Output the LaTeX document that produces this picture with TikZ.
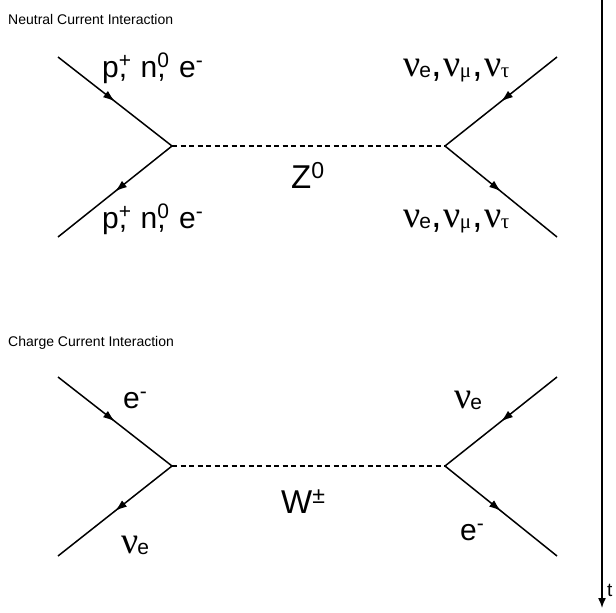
\documentclass[tikz,border=0pt]{standalone}
\usepackage{fontspec}
\setmainfont{Liberation Sans}
\newfontfamily\greek{Liberation Serif}
\usetikzlibrary{arrows.meta, decorations.markings}

\tikzset{
    fermion/.style={line width=1.5pt, postaction={decorate},
        decoration={markings, mark=at position 0.5 with {\arrow{Latex[length=12pt,width=8pt]}}}},
    boson/.style={line width=1.2pt, dash pattern=on 5pt off 3.5pt},
    biglabel/.style={font=\fontsize{30}{34}\selectfont, inner sep=0pt, anchor=base west},
    nulabel/.style={font=\fontsize{38}{40}\selectfont, inner sep=0pt, anchor=base west},
    title/.style={font=\fontsize{14}{16}\selectfont, inner sep=0pt, anchor=base west},
}
\newcommand{\nuf}[1]{{\greek ν}\kern-1pt{\fontsize{21}{22}\selectfont\raisebox{-1pt}{#1}}}
\newcommand{\nucdots}{\nuf{e},\kern2pt\nuf{\greek μ}\kern1pt,\kern2pt\nuf{\greek τ}}
\newcommand{\nucleons}{p\rlap{\textsuperscript{+}},\hspace{0.45em}n\rlap{\textsuperscript{0}},\hspace{0.45em}e\textsuperscript{-}}

\begin{document}
\begin{tikzpicture}[x=1pt, y=-1pt]
    \useasboundingbox (0,0) rectangle (616,613);
    % neutral current
    \node[title] (ncname) at (8,24) {Neutral Current Interaction};
    \coordinate (ncin) at (58,57);
    \coordinate (ncout) at (58,237);
    \coordinate (ncvl) at (172,146);
    \coordinate (ncvr) at (445,146);
    \coordinate (ncnuin) at (557,57);
    \coordinate (ncnuout) at (557,237);
    \draw[fermion] (ncin) -- (ncvl);
    \draw[fermion] (ncvl) -- (ncout);
    \draw[fermion] (ncnuin) -- (ncvr);
    \draw[fermion] (ncvr) -- (ncnuout);
    \draw[boson] (ncvl) -- (ncvr);
    \node[biglabel] (ncpin) at (102,77) {\nucleons};
    \node[biglabel] (ncpout) at (102,228) {\nucleons};
    \node[nulabel] (ncnutop) at (403,76) {\nucdots};
    \node[nulabel] (ncnubot) at (403,227) {\nucdots};
    \node[biglabel, font=\fontsize{33}{36}\selectfont] (zboson) at (291,188) {Z\textsuperscript{0}};
    % charged current
    \node[title] (ccname) at (8,346) {Charge Current Interaction};
    \coordinate (ccin) at (58,377);
    \coordinate (ccout) at (58,556);
    \coordinate (ccvl) at (172,466);
    \coordinate (ccvr) at (445,466);
    \coordinate (ccnuin) at (557,377);
    \coordinate (ccnuout) at (557,556);
    \draw[fermion] (ccin) -- (ccvl);
    \draw[fermion] (ccvl) -- (ccout);
    \draw[fermion] (ccnuin) -- (ccvr);
    \draw[fermion] (ccvr) -- (ccnuout);
    \draw[boson] (ccvl) -- (ccvr);
    \node[biglabel] (ccein) at (123,408) {e\textsuperscript{-}};
    \node[nulabel] (ccnulow) at (121,553) {\nuf{e}};
    \node[nulabel] (ccnuhigh) at (454,408) {\nuf{e}};
    \node[biglabel] (cceout) at (460,540) {e\textsuperscript{-}};
    \node[biglabel, font=\fontsize{33}{36}\selectfont] (wboson) at (281,513) {W\textsuperscript{±}};
    % time axis
    \coordinate (ttop) at (602,0);
    \coordinate (tend) at (602,608);
    \draw[line width=1.5pt, -{Latex[length=10pt,width=8pt]}] (ttop) -- (tend);
    \node[title, font=\fontsize{19}{20}\selectfont] (tname) at (607,596) {t};
\end{tikzpicture}
\end{document}
